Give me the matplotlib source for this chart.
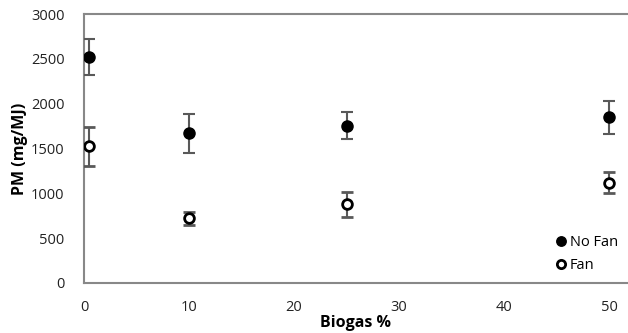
import matplotlib
matplotlib.use("Agg")
import matplotlib.pyplot as plt

plt.rcParams['font.family'] = ['Open Sans', 'DejaVu Sans']

biogas = [0.5, 10, 25, 50]
nofan = [2520, 1670, 1755, 1850]
nofan_err = [200, 215, 150, 185]
fan = [1525, 720, 880, 1120]
fan_err = [215, 72, 140, 120]
xticks = [0, 10, 20, 30, 40, 50]
yticks = [0, 500, 1000, 1500, 2000, 2500, 3000]

W, H = 628, 333
fig = plt.figure(figsize=(W/100, H/100), dpi=100)
ax = fig.add_axes([84/W, 50/H, (628-84)/W, (283-14)/H])

ecol = '#595959'
ax.errorbar(biogas, nofan, yerr=nofan_err, fmt='o', color='black', ms=8,
            ecolor=ecol, elinewidth=1.5, capsize=4, capthick=1.5, label='No Fan', zorder=3)
ax.errorbar(biogas, fan, yerr=fan_err, fmt='o', mfc='white', mec='black', mew=2, ms=7,
            ecolor=ecol, elinewidth=1.5, capsize=4, capthick=1.5, label='Fan', zorder=3)

ax.set_xlim(0, 51.8)
ax.set_ylim(0, 3000)
ax.set_xticks(xticks)
ax.set_yticks(yticks)
ax.tick_params(length=0, labelsize=10.5, colors='#222222')
ax.tick_params(axis='y', pad=14)
ax.tick_params(axis='x', pad=12)
for s in ['left', 'bottom', 'top']:
    ax.spines[s].set_color('#888888')
    ax.spines[s].set_linewidth(1.5)
ax.spines['right'].set_visible(False)

ax.set_xlabel('Biogas %', fontsize=11.5, fontweight='bold', labelpad=0)
ax.set_ylabel('PM (mg/MJ)', fontsize=11.5, fontweight='bold', labelpad=2)

handles, labels = ax.get_legend_handles_labels()
handles = [h[0] for h in handles]
ax.legend(handles, labels, loc='lower right', frameon=False, fontsize=10.5,
          handletextpad=0.0, handlelength=1.2, borderaxespad=0.3, labelspacing=0.5,
          markerscale=0.85)

fig.savefig('out.png', dpi=100)
